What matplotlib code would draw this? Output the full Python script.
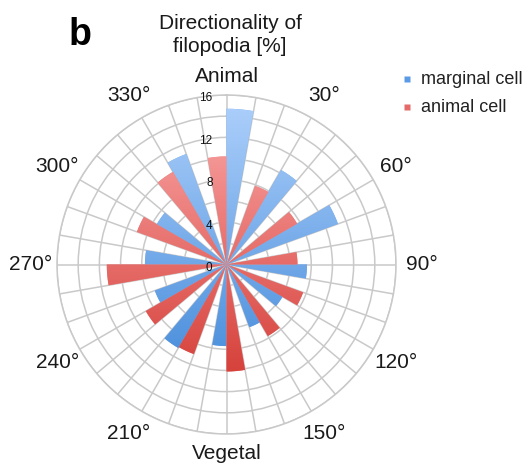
import numpy as np
import matplotlib
matplotlib.use("Agg")
import matplotlib.pyplot as plt
from matplotlib.patches import Polygon
from matplotlib.transforms import IdentityTransform

plt.rcParams['font.family'] = ['Liberation Sans', 'DejaVu Sans']

# bars every 30 deg: blue sector starts at 0,30,..; red sector starts 20 deg later
blue_start = [0, 30, 60, 90, 120, 150, 180, 210, 240, 270, 300, 330]
blue_vals = [14.7, 10.3, 11.2, 7.6, 6.1, 6.3, 7.7, 9.1, 7.2, 7.7, 7.6, 11.1]
red_start = [20, 50, 80, 110, 140, 170, 200, 230, 260, 290, 320, 350]
red_vals = [7.9, 7.7, 6.7, 7.7, 7.8, 10.1, 9.0, 8.8, 11.3, 9.0, 10.1, 10.2]
ring_labels = [0, 4, 8, 12, 16]
angle_ticks = [30, 60, 90, 120, 150, 210, 240, 270, 300, 330]

W, H = 528, 465
cx, cy, R = 226.5, 264.5, 169.5

fig = plt.figure(figsize=(W / 100, H / 100), dpi=100)
ax = fig.add_axes([(cx - R) / W, (H - cy - R) / H, 2 * R / W, 2 * R / H],
                  projection='polar')
ax.set_theta_zero_location('N')
ax.set_theta_direction(-1)
ax.set_ylim(0, 16)
ax.set_yticks(np.arange(2, 17, 2))
ax.set_yticklabels([])
ax.set_xticks(np.deg2rad(np.arange(0, 360, 10)))
ax.set_xticklabels([])
ax.tick_params(length=0)
ax.grid(True, color='#c9c9c9', lw=1.1)
ax.spines['polar'].set_color('#c9c9c9')
ax.spines['polar'].set_linewidth(1.1)

w = np.deg2rad(10)
ax.bar(np.deg2rad(blue_start), blue_vals, width=w, align='edge',
       color='#78acec', lw=0, zorder=3)
ax.bar(np.deg2rad(red_start), red_vals, width=w, align='edge',
       color='#e98380', lw=0, zorder=3)

# angle labels
for a in angle_ticks:
    ax.text(np.deg2rad(a), 18.45, f'{a}°', ha='center', va='center',
            fontsize=15, color='#1a1a1a', clip_on=False)
ax.text(0, 17.75, 'Animal', ha='center', va='center', fontsize=15,
        color='#1a1a1a', clip_on=False)
ax.text(np.pi, 17.85, 'Vegetal', ha='center', va='center', fontsize=15,
        color='#1a1a1a', clip_on=False)

# overlay axes for vertical colour gradient in the bars
gax = fig.add_axes([0, 0, 1, 1])
gax.set_xlim(0, W)
gax.set_ylim(H, 0)
gax.axis('off')


def gradient(top, bottom, y0=105, y1=375):
    ys = np.arange(H) + 0.5
    t = np.clip((ys - y0) / (y1 - y0), 0, 1)[:, None]
    c = np.array(top)[None, :] * (1 - t) + np.array(bottom)[None, :] * t
    return (c / 255.0)[:, None, :]


def wedge(start, val):
    th = np.deg2rad(np.linspace(start, start + 10, 40))
    pts = np.column_stack([np.r_[0, th], np.r_[0, np.full(th.size, val)]])
    return Polygon(ax.transData.transform(pts), closed=True,
                   transform=IdentityTransform())


g_blue = gradient((172, 207, 251), (70, 140, 218))
g_red = gradient((251, 170, 170), (214, 64, 58))

for starts, vals, g in [(blue_start, blue_vals, g_blue),
                        (red_start, red_vals, g_red)]:
    for s, v in zip(starts, vals):
        im = gax.imshow(g, extent=(0, W, H, 0), aspect='auto',
                        interpolation='bilinear')
        im.set_clip_path(wedge(s, v))

# radial labels on top of the bars
for r in ring_labels:
    gax.annotate(str(r), xy=(0, r), xycoords=ax.transData,
                 xytext=(-10, -2.5), textcoords='offset points',
                 ha='right', va='center', fontsize=8.5, color='#111111')

# titles
fig.text(230 / W, 1 - 35 / H, 'Directionality of\nfilopodia [%]',
         ha='center', va='center', fontsize=15, color='#1a1a1a',
         linespacing=1.25)
fig.text(69 / W, 1 - 45 / H, 'b', ha='left', va='baseline', fontsize=27,
         fontweight='bold', color='black')

# legend
gax.plot([407], [79], 's', ms=4, color='#5b9be6', mec='none')
gax.plot([407], [107.5], 's', ms=4, color='#e46b69', mec='none')
gax.text(421, 79, 'marginal cell', ha='left', va='center', fontsize=13,
         color='#222222')
gax.text(421, 107.5, 'animal cell', ha='left', va='center', fontsize=13,
         color='#222222')

fig.savefig('out.png', dpi=100)
